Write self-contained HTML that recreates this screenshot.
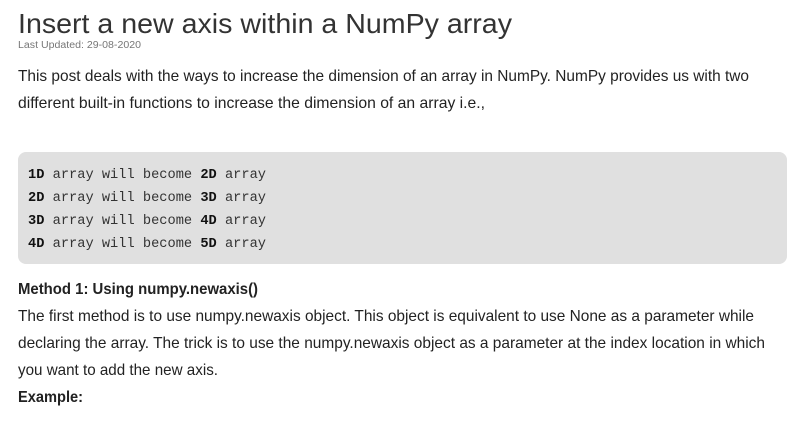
<!DOCTYPE html>
<html><head><meta charset="utf-8"><style>
html,body{margin:0;padding:0;background:#fff;width:808px;height:425px;overflow:hidden}
svg{display:block}
text{font-family:"Liberation Sans",sans-serif;fill:#222}
.m{font-family:"Liberation Mono",monospace;font-size:13.5px;fill:#333}
.b{font-weight:bold;fill:#111}
</style></head><body>
<svg width="808" height="425" viewBox="0 0 808 425" xmlns="http://www.w3.org/2000/svg">
<text x="18" y="33" font-size="28" textLength="494" lengthAdjust="spacingAndGlyphs" style="fill:#333">Insert a new axis within a NumPy array</text>
<text x="18" y="48" font-size="10" textLength="123" lengthAdjust="spacingAndGlyphs" style="fill:#777">Last Updated: 29-08-2020</text>
<text x="18" y="81" font-size="16" textLength="731" lengthAdjust="spacingAndGlyphs">This post deals with the ways to increase the dimension of an array in NumPy. NumPy provides us with two</text>
<text x="18" y="108" font-size="16" textLength="467" lengthAdjust="spacingAndGlyphs">different built-in functions to increase the dimension of an array i.e.,</text>
<rect x="18" y="152" width="769" height="112" rx="8" fill="#e0e0e0"/>
<text class="m" x="28" y="178" textLength="238" lengthAdjust="spacingAndGlyphs"><tspan class="b">1D</tspan> array will become <tspan class="b">2D</tspan> array</text>
<text class="m" x="28" y="201" textLength="238" lengthAdjust="spacingAndGlyphs"><tspan class="b">2D</tspan> array will become <tspan class="b">3D</tspan> array</text>
<text class="m" x="28" y="224" textLength="238" lengthAdjust="spacingAndGlyphs"><tspan class="b">3D</tspan> array will become <tspan class="b">4D</tspan> array</text>
<text class="m" x="28" y="247" textLength="238" lengthAdjust="spacingAndGlyphs"><tspan class="b">4D</tspan> array will become <tspan class="b">5D</tspan> array</text>
<text x="18" y="294" font-size="16" font-weight="bold" textLength="240" lengthAdjust="spacingAndGlyphs">Method 1: Using numpy.newaxis()</text>
<text x="18" y="321" font-size="16" textLength="736" lengthAdjust="spacingAndGlyphs">The first method is to use numpy.newaxis object. This object is equivalent to use None as a parameter while</text>
<text x="18" y="348" font-size="16" textLength="747" lengthAdjust="spacingAndGlyphs">declaring the array. The trick is to use the numpy.newaxis object as a parameter at the index location in which</text>
<text x="18" y="375" font-size="16" textLength="200" lengthAdjust="spacingAndGlyphs">you want to add the new axis.</text>
<text x="18" y="402" font-size="16" font-weight="bold" textLength="65" lengthAdjust="spacingAndGlyphs">Example:</text>
</svg>
</body></html>
